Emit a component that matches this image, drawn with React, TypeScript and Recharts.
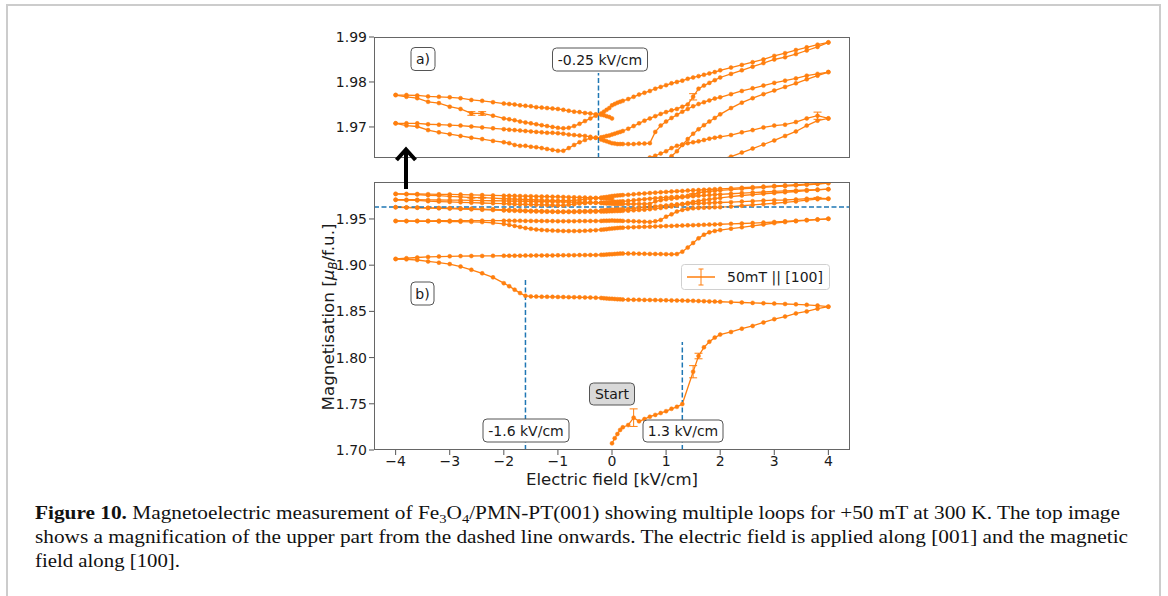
import React from 'react';
import { LineChart, Line, XAxis, YAxis, ReferenceLine, ErrorBar } from 'recharts';

const ORANGE = '#ff7f0e';
const BLUE = '#1f77b4';
const FONT = '"DejaVu Sans", sans-serif';

// Electric-field grid (kV/cm) of the full sweeps between -4 and +4
const E_GRID = [
  -4, -3.8, -3.6, -3.4, -3.2, -3, -2.8, -2.6, -2.4, -2.2,
  -2, -1.9, -1.8, -1.7, -1.6, -1.5, -1.4, -1.3, -1.2, -1.1,
  -1, -0.9, -0.8, -0.7, -0.6, -0.5, -0.4, -0.3,
  -0.2, -0.15, -0.1, -0.05, 0, 0.05, 0.1, 0.15, 0.2,
  0.3, 0.4, 0.5, 0.6, 0.7, 0.8, 0.9,
  1, 1.1, 1.2, 1.3, 1.4, 1.5, 1.6, 1.7, 1.8, 1.9,
  2, 2.2, 2.4, 2.6, 2.8, 3, 3.2, 3.4, 3.6, 3.8, 4,
];

// Initial branch 0 -> +4 kV/cm
const START_E = [0, 0.05, 0.1, 0.15, 0.2, 0.3, 0.4, 0.5, 0.6, 0.7, 0.8, 0.9, 1.0, 1.1, 1.2, 1.3, 1.5, 1.6, 1.7, 1.8, 1.9, 2.0, 2.2, 2.4, 2.6, 2.8, 3.0, 3.2, 3.4, 3.6, 3.8, 4.0];
const START_M = [1.7072, 1.7127, 1.7173, 1.7217, 1.7246, 1.7270, 1.7350, 1.7310, 1.7335, 1.7360, 1.7380, 1.7400, 1.7420, 1.7446, 1.7467, 1.7497, 1.7847, 1.8017, 1.8111, 1.8172, 1.8216, 1.8249, 1.8277, 1.8313, 1.8342, 1.8380, 1.8416, 1.8444, 1.8478, 1.8500, 1.8529, 1.8551];

// Sweep 2: +4 -> -4 (values listed in E_GRID order)
const SWEEP_2 = [
  1.9067, 1.9063, 1.9056, 1.9040, 1.9027, 1.9012, 1.8985, 1.8950, 1.8912, 1.8868,
  1.8805, 1.8772, 1.8735, 1.8698, 1.8668, 1.8662, 1.8660, 1.8659, 1.8658, 1.8657,
  1.8656, 1.8655, 1.8654, 1.8653, 1.8652, 1.8651, 1.8650, 1.8648,
  1.8645, 1.8642, 1.8640, 1.8638, 1.8636, 1.8634, 1.8632, 1.8630, 1.8628,
  1.8627, 1.8626, 1.8625, 1.8624, 1.8623, 1.8622, 1.8621,
  1.8620, 1.8619, 1.8618, 1.8617, 1.8616, 1.8614, 1.8612, 1.8610, 1.8608, 1.8606,
  1.8604, 1.8600, 1.8596, 1.8592, 1.8588, 1.8584, 1.8580, 1.8576, 1.8571, 1.8563, 1.8551,
];
// Sweep 3: -4 -> +4
const SWEEP_3 = [
  1.9067, 1.9075, 1.9083, 1.9089, 1.9093, 1.9096, 1.9098, 1.9099, 1.9100, 1.9101,
  1.9102, 1.9102, 1.9103, 1.9103, 1.9104, 1.9104, 1.9105, 1.9105, 1.9106, 1.9106,
  1.9107, 1.9107, 1.9108, 1.9108, 1.9109, 1.9109, 1.9110, 1.9110,
  1.9112, 1.9113, 1.9115, 1.9117, 1.9119, 1.9121, 1.9123, 1.9125, 1.9126,
  1.9126, 1.9125, 1.9124, 1.9123, 1.9122, 1.9121, 1.9120,
  1.9119, 1.9118, 1.9120, 1.9146, 1.9190, 1.9240, 1.9290, 1.9330, 1.9355, 1.9370,
  1.9380, 1.9395, 1.9410, 1.9425, 1.9440, 1.9455, 1.9466, 1.9476, 1.9485, 1.9493, 1.9502,
];
// Sweep 4: +4 -> -4
const SWEEP_4 = [
  1.9478, 1.9476, 1.9475, 1.9474, 1.9473, 1.9472, 1.9471, 1.9469, 1.9466, 1.9458,
  1.9446, 1.9436, 1.9425, 1.9413, 1.9402, 1.9393, 1.9386, 1.9381, 1.9377, 1.9374,
  1.9372, 1.9370, 1.9369, 1.9369, 1.9370, 1.9372, 1.9375, 1.9379,
  1.9384, 1.9387, 1.9390, 1.9393, 1.9396, 1.9399, 1.9402, 1.9404, 1.9406,
  1.9409, 1.9411, 1.9413, 1.9415, 1.9417, 1.9419, 1.9421,
  1.9423, 1.9425, 1.9427, 1.9429, 1.9431, 1.9433, 1.9435, 1.9437, 1.9439, 1.9441,
  1.9443, 1.9447, 1.9451, 1.9456, 1.9461, 1.9467, 1.9474, 1.9481, 1.9488, 1.9495, 1.9502,
];
// Sweep 5: -4 -> +4
const SWEEP_5 = [
  1.9478, 1.9479, 1.9480, 1.9480, 1.9481, 1.9481, 1.9482, 1.9482, 1.9482, 1.9482,
  1.9481, 1.9481, 1.9480, 1.9480, 1.9479, 1.9479, 1.9478, 1.9478, 1.9477, 1.9477,
  1.9476, 1.9476, 1.9476, 1.9476, 1.9477, 1.9477, 1.9478, 1.9478,
  1.9479, 1.9480, 1.9481, 1.9482, 1.9483, 1.9482, 1.9481, 1.9480, 1.9479,
  1.9477, 1.9475, 1.9473, 1.9470, 1.9468, 1.9475, 1.9489,
  1.9525, 1.9550, 1.9580, 1.9598, 1.9608, 1.9615, 1.9619, 1.9622, 1.9624, 1.9626,
  1.9628, 1.9634, 1.9643, 1.9652, 1.9661, 1.9670, 1.9680, 1.9690, 1.9703, 1.9714, 1.9719,
];
// Sweep 6: +4 -> -4
const SWEEP_6 = [
  1.9627, 1.9625, 1.9623, 1.9621, 1.9619, 1.9617, 1.9614, 1.9611, 1.9607, 1.9604,
  1.9600, 1.9598, 1.9596, 1.9594, 1.9592, 1.9590, 1.9588, 1.9586, 1.9584, 1.9582,
  1.9580, 1.9581, 1.9582, 1.9583, 1.9585, 1.9586, 1.9588, 1.9590,
  1.9592, 1.9594, 1.9596, 1.9598, 1.9600, 1.9601, 1.9602, 1.9603, 1.9605,
  1.9608, 1.9614, 1.9620, 1.9627, 1.9632, 1.9636, 1.9641,
  1.9646, 1.9653, 1.9658, 1.9661, 1.9664, 1.9666, 1.9668, 1.9671, 1.9674, 1.9676,
  1.9678, 1.9682, 1.9688, 1.9693, 1.9699, 1.9703, 1.9705, 1.9711, 1.9719, 1.9725, 1.9719,
];
// Sweep 7: -4 -> +4
const SWEEP_7 = [
  1.9627, 1.9624, 1.9621, 1.9618, 1.9615, 1.9612, 1.9608, 1.9604, 1.9600, 1.9596,
  1.9592, 1.9590, 1.9588, 1.9586, 1.9584, 1.9582, 1.9580, 1.9579, 1.9578, 1.9577,
  1.9576, 1.9575, 1.9575, 1.9575, 1.9576, 1.9577, 1.9578, 1.9579,
  1.9580, 1.9581, 1.9582, 1.9583, 1.9584, 1.9585, 1.9586, 1.9587, 1.9588,
  1.9590, 1.9593, 1.9597, 1.9601, 1.9606, 1.9612, 1.9619,
  1.9626, 1.9635, 1.9646, 1.9660, 1.9673, 1.9685, 1.9695, 1.9704, 1.9712, 1.9720,
  1.9728, 1.9742, 1.9754, 1.9764, 1.9773, 1.9781, 1.9789, 1.9797, 1.9806, 1.9814, 1.9822,
];
// Sweep 8: +4 -> -4
const SWEEP_8 = [
  1.9708, 1.9708, 1.9708, 1.9706, 1.9705, 1.9704, 1.9703, 1.9701, 1.9699, 1.9697,
  1.9695, 1.9694, 1.9693, 1.9692, 1.9691, 1.9690, 1.9689, 1.9688, 1.9687, 1.9687,
  1.9686, 1.9685, 1.9683, 1.9682, 1.9681, 1.9680, 1.9678, 1.9676,
  1.9672, 1.9670, 1.9668, 1.9666, 1.9664, 1.9663, 1.9662, 1.9662, 1.9662,
  1.9662, 1.9662, 1.9663, 1.9663, 1.9664, 1.9689, 1.9703,
  1.9712, 1.9720, 1.9727, 1.9734, 1.9740, 1.9746, 1.9751, 1.9755, 1.9759, 1.9763,
  1.9766, 1.9773, 1.9780, 1.9786, 1.9792, 1.9798, 1.9803, 1.9808, 1.9814, 1.9818, 1.9822,
];
// Sweep 9: -4 -> +4
const SWEEP_9 = [
  1.9708, 1.9703, 1.9701, 1.9693, 1.9688, 1.9684, 1.9680, 1.9676, 1.9673, 1.9669,
  1.9666, 1.9664, 1.9660, 1.9658, 1.9658, 1.9656, 1.9655, 1.9653, 1.9651, 1.9649,
  1.9647, 1.9647, 1.9653, 1.9660, 1.9666, 1.9671, 1.9675, 1.9676,
  1.9677, 1.9678, 1.9680, 1.9681, 1.9683, 1.9685, 1.9687, 1.9689, 1.9691,
  1.9696, 1.9702, 1.9708, 1.9714, 1.9719, 1.9724, 1.9729,
  1.9733, 1.9737, 1.9740, 1.9745, 1.9750, 1.9767, 1.9785, 1.9792, 1.9798, 1.9804,
  1.9810, 1.9818, 1.9826, 1.9834, 1.9842, 1.9850, 1.9855, 1.9862, 1.9870, 1.9878, 1.9888,
];
// Sweep 10: +4 -> -4
const SWEEP_10 = [
  1.9771, 1.9771, 1.9770, 1.9768, 1.9767, 1.9766, 1.9764, 1.9760, 1.9758, 1.9755,
  1.9752, 1.9751, 1.9750, 1.9748, 1.9747, 1.9746, 1.9744, 1.9743, 1.9742, 1.9741,
  1.9740, 1.9738, 1.9736, 1.9734, 1.9733, 1.9731, 1.9730, 1.9728,
  1.9730, 1.9734, 1.9738, 1.9742, 1.9748, 1.9751, 1.9754, 1.9756, 1.9758,
  1.9762, 1.9767, 1.9772, 1.9776, 1.9780, 1.9785, 1.9789,
  1.9793, 1.9797, 1.9800, 1.9803, 1.9807, 1.9810, 1.9813, 1.9816, 1.9819, 1.9822,
  1.9826, 1.9832, 1.9838, 1.9844, 1.9850, 1.9858, 1.9864, 1.9871, 1.9877, 1.9883, 1.9888,
];
// Sweep 11: -4 -> 0 (end of measurement)
const SWEEP_11 = [
  1.9771, 1.9767, 1.9764, 1.9756, 1.9753, 1.9745, 1.9740, 1.9730, 1.9730, 1.9725,
  1.9719, 1.9717, 1.9715, 1.9712, 1.9710, 1.9708, 1.9706, 1.9704, 1.9702, 1.9700,
  1.9698, 1.9697, 1.9698, 1.9702, 1.9707, 1.9713, 1.9719, 1.9725,
  1.9727, 1.9726, 1.9724, 1.9722, 1.9719,
];

// Error bars [E, ±dM]
const ERR_START: [number, number][] = [[0.4, 0.0095], [1.5, 0.0066], [1.6, 0.003]];
const ERR_6: [number, number][] = [[3.8, 0.0008]];
const ERR_9: [number, number][] = [[1.5, 0.0007]];
const ERR_11: [number, number][] = [[-2.6, 0.0004], [-2.4, 0.0004]];

const X_TICKS = [-4, -3, -2, -1, 0, 1, 2, 3, 4];
const TOP_Y_TICKS = [1.97, 1.98, 1.99];
const BOTTOM_Y_TICKS = [1.7, 1.75, 1.8, 1.85, 1.9, 1.95];

type Pt = { E: number; M: number; err?: number };

function makeSeries(es: number[], ms: number[], errs: [number, number][] = []): Pt[] {
  return ms.map((M, i) => {
    const E = es[i];
    const e = errs.find(([x]) => Math.abs(x - E) < 1e-9);
    return { E, M, err: e ? e[1] : undefined };
  });
}

const SERIES: Pt[][] = [
  makeSeries(START_E, START_M, ERR_START),
  makeSeries(E_GRID, SWEEP_2),
  makeSeries(E_GRID, SWEEP_3),
  makeSeries(E_GRID, SWEEP_4),
  makeSeries(E_GRID, SWEEP_5),
  makeSeries(E_GRID, SWEEP_6, ERR_6),
  makeSeries(E_GRID, SWEEP_7),
  makeSeries(E_GRID, SWEEP_8),
  makeSeries(E_GRID, SWEEP_9, ERR_9),
  makeSeries(E_GRID, SWEEP_10),
  makeSeries(E_GRID, SWEEP_11, ERR_11),
];

const fmtX = (v: number) => (v < 0 ? '\u2212' + Math.abs(v) : String(v));
const fmtY = (v: number) => v.toFixed(2);
const tickStyle = { fontSize: 14, fill: '#1a1a1a', fontFamily: FONT };
const tickLineStyle = { stroke: '#555', strokeWidth: 1 };
const dash = { stroke: BLUE, strokeDasharray: '5 2.5', strokeWidth: 1.5 };

function renderSweeps(prefix: string) {
  return SERIES.map((data, i) => (
    <Line
      key={prefix + i}
      data={data}
      dataKey="M"
      type="linear"
      stroke={ORANGE}
      strokeWidth={1.3}
      dot={{ r: 2, fill: ORANGE, stroke: ORANGE, strokeWidth: 0.5 }}
      activeDot={false}
      isAnimationActive={false}
      legendType="none"
    >
      <ErrorBar dataKey="err" width={4} stroke={ORANGE} strokeWidth={1} direction="y" isAnimationActive={false} />
    </Line>
  ));
}

function Box({ cx, cy, w, h, text, fill = '#fff' }: { cx: number; cy: number; w: number; h: number; text: string; fill?: string }) {
  return (
    <g>
      <rect x={cx - w / 2} y={cy - h / 2} width={w} height={h} rx={4} ry={4} fill={fill} stroke="#555" strokeWidth={1} />
      <text x={cx} y={cy} dy="0.36em" textAnchor="middle" fontFamily={FONT} fontSize={14} fill="#1a1a1a">{text}</text>
    </g>
  );
}

export default function App() {
  return (
    <div style={{ position: 'absolute', left: 0, top: 0, width: 1168, height: 596, background: '#fff', overflow: 'hidden' }}>
      {/* Top panel (a) */}
      <div style={{ position: 'absolute', left: 300, top: 20 }}>
        <LineChart width={560} height={150} margin={{ top: 17, right: 10, bottom: 0, left: 0 }}>
          <XAxis type="number" dataKey="E" domain={[-4.4, 4.4]} allowDataOverflow ticks={X_TICKS} tick={false}
            tickLine={tickLineStyle} tickSize={5} axisLine={false} height={12} />
          <YAxis type="number" domain={[1.9631, 1.99]} allowDataOverflow ticks={TOP_Y_TICKS} interval={0}
            tickFormatter={fmtY} tick={tickStyle} tickLine={tickLineStyle} tickSize={5} tickMargin={2} axisLine={false} width={74} />
          {renderSweeps('a')}
          <ReferenceLine segment={[{ x: -0.25, y: 1.9631 }, { x: -0.25, y: 1.982 }]} ifOverflow="hidden" {...dash} />
        </LineChart>
      </div>
      {/* Bottom panel (b) */}
      <div style={{ position: 'absolute', left: 300, top: 165 }}>
        <LineChart width={560} height={320} margin={{ top: 17, right: 10, bottom: 0, left: 0 }}>
          <XAxis type="number" dataKey="E" domain={[-4.4, 4.4]} allowDataOverflow ticks={X_TICKS} interval={0}
            tickFormatter={fmtX} tick={tickStyle} tickLine={tickLineStyle} tickSize={5} tickMargin={1.5} axisLine={false} height={35} />
          <YAxis type="number" domain={[1.7, 1.99]} allowDataOverflow ticks={BOTTOM_Y_TICKS} interval={0}
            tickFormatter={fmtY} tick={tickStyle} tickLine={tickLineStyle} tickSize={5} tickMargin={2} axisLine={false} width={74} />
          {renderSweeps('b')}
          <ReferenceLine y={1.963} ifOverflow="hidden" {...dash} />
          <ReferenceLine segment={[{ x: -1.6, y: 1.7 }, { x: -1.6, y: 1.885 }]} ifOverflow="hidden" {...dash} />
          <ReferenceLine segment={[{ x: 1.3, y: 1.7 }, { x: 1.3, y: 1.817 }]} ifOverflow="hidden" {...dash} />
        </LineChart>
      </div>

      <svg width={1168} height={596} style={{ position: 'absolute', left: 0, top: 0, pointerEvents: 'none' }}>
        {/* page frame */}
        <line x1={7} y1={5} x2={7} y2={596} stroke="#cccccc" strokeWidth={2} />
        <line x1={6} y1={5} x2={1161} y2={5} stroke="#cccccc" strokeWidth={2} />
        <line x1={1160} y1={5} x2={1160} y2={596} stroke="#cccccc" strokeWidth={2} />

        {/* plot frames */}
        <rect x={374.5} y={37.5} width={475} height={120} fill="none" stroke="#666" strokeWidth={1} />
        <rect x={374.5} y={182.5} width={475} height={267} fill="none" stroke="#666" strokeWidth={1} />

        {/* annotations */}
        <Box cx={423} cy={59} w={24} h={23} text="a)" />
        <Box cx={600} cy={59.5} w={95} h={23} text="-0.25 kV/cm" />
        <Box cx={422.5} cy={293.5} w={23} h={23} text="b)" />
        <Box cx={612} cy={394} w={45} h={22} text="Start" fill="#d9d9d9" />
        <Box cx={526} cy={430.5} w={86} h={23} text="-1.6 kV/cm" />
        <Box cx={683} cy={431} w={80} h={22} text="1.3 kV/cm" />

        {/* legend */}
        <rect x={681.5} y={264.5} width={148} height={25} rx={3} ry={3} fill="#fff" stroke="#d0d0d0" strokeWidth={1} />
        <line x1={687} y1={277} x2={715} y2={277} stroke={ORANGE} strokeWidth={1.5} />
        <line x1={701} y1={269} x2={701} y2={285} stroke={ORANGE} strokeWidth={1} />
        <line x1={698.5} y1={269} x2={703.5} y2={269} stroke={ORANGE} strokeWidth={1} />
        <line x1={698.5} y1={285} x2={703.5} y2={285} stroke={ORANGE} strokeWidth={1} />
        <text x={727} y={277} dy="0.36em" fontFamily={FONT} fontSize={14} fill="#1a1a1a">50mT || [100]</text>

        {/* arrow between panels */}
        <line x1={406} y1={189} x2={406} y2={151} stroke="#000" strokeWidth={4} />
        <polyline points="396.5,160 406,149.5 415.5,160" fill="none" stroke="#000" strokeWidth={4} strokeLinejoin="miter" />

        {/* axis labels */}
        <text x={612} y={485} textAnchor="middle" fontFamily={FONT} fontSize={16.5} fill="#1a1a1a" textLength={172} lengthAdjust="spacingAndGlyphs">
          Electric field [kV/cm]
        </text>
        <text x={334} y={317} transform="rotate(-90 334 317)" textAnchor="middle" fontFamily={FONT} fontSize={16.5} fill="#1a1a1a" textLength={187} lengthAdjust="spacingAndGlyphs">
          {'Magnetisation ['}
          <tspan fontStyle="italic">μ</tspan>
          <tspan fontStyle="italic" fontSize={11.5} dy={3}>B</tspan>
          <tspan dy={-3}>/f.u.]</tspan>
        </text>

        {/* caption */}
        <g fontFamily='"Liberation Serif", "Times New Roman", serif' fontSize={19} fill="#111">
          <text x={35} y={519} textLength={1085} lengthAdjust="spacingAndGlyphs">
            <tspan fontWeight="bold">Figure 10.</tspan>
            {' Magnetoelectric measurement of Fe'}
            <tspan fontSize={13} dy={4}>3</tspan>
            <tspan dy={-4}>O</tspan>
            <tspan fontSize={13} dy={4}>4</tspan>
            <tspan dy={-4}>/PMN-PT(001) showing multiple loops for +50 mT at 300 K. The top image</tspan>
          </text>
          <text x={35} y={543} textLength={1093} lengthAdjust="spacingAndGlyphs">
            shows a magnification of the upper part from the dashed line onwards. The electric field is applied along [001] and the magnetic
          </text>
          <text x={35} y={567} textLength={145} lengthAdjust="spacingAndGlyphs">field along [100].</text>
        </g>
      </svg>
    </div>
  );
}
